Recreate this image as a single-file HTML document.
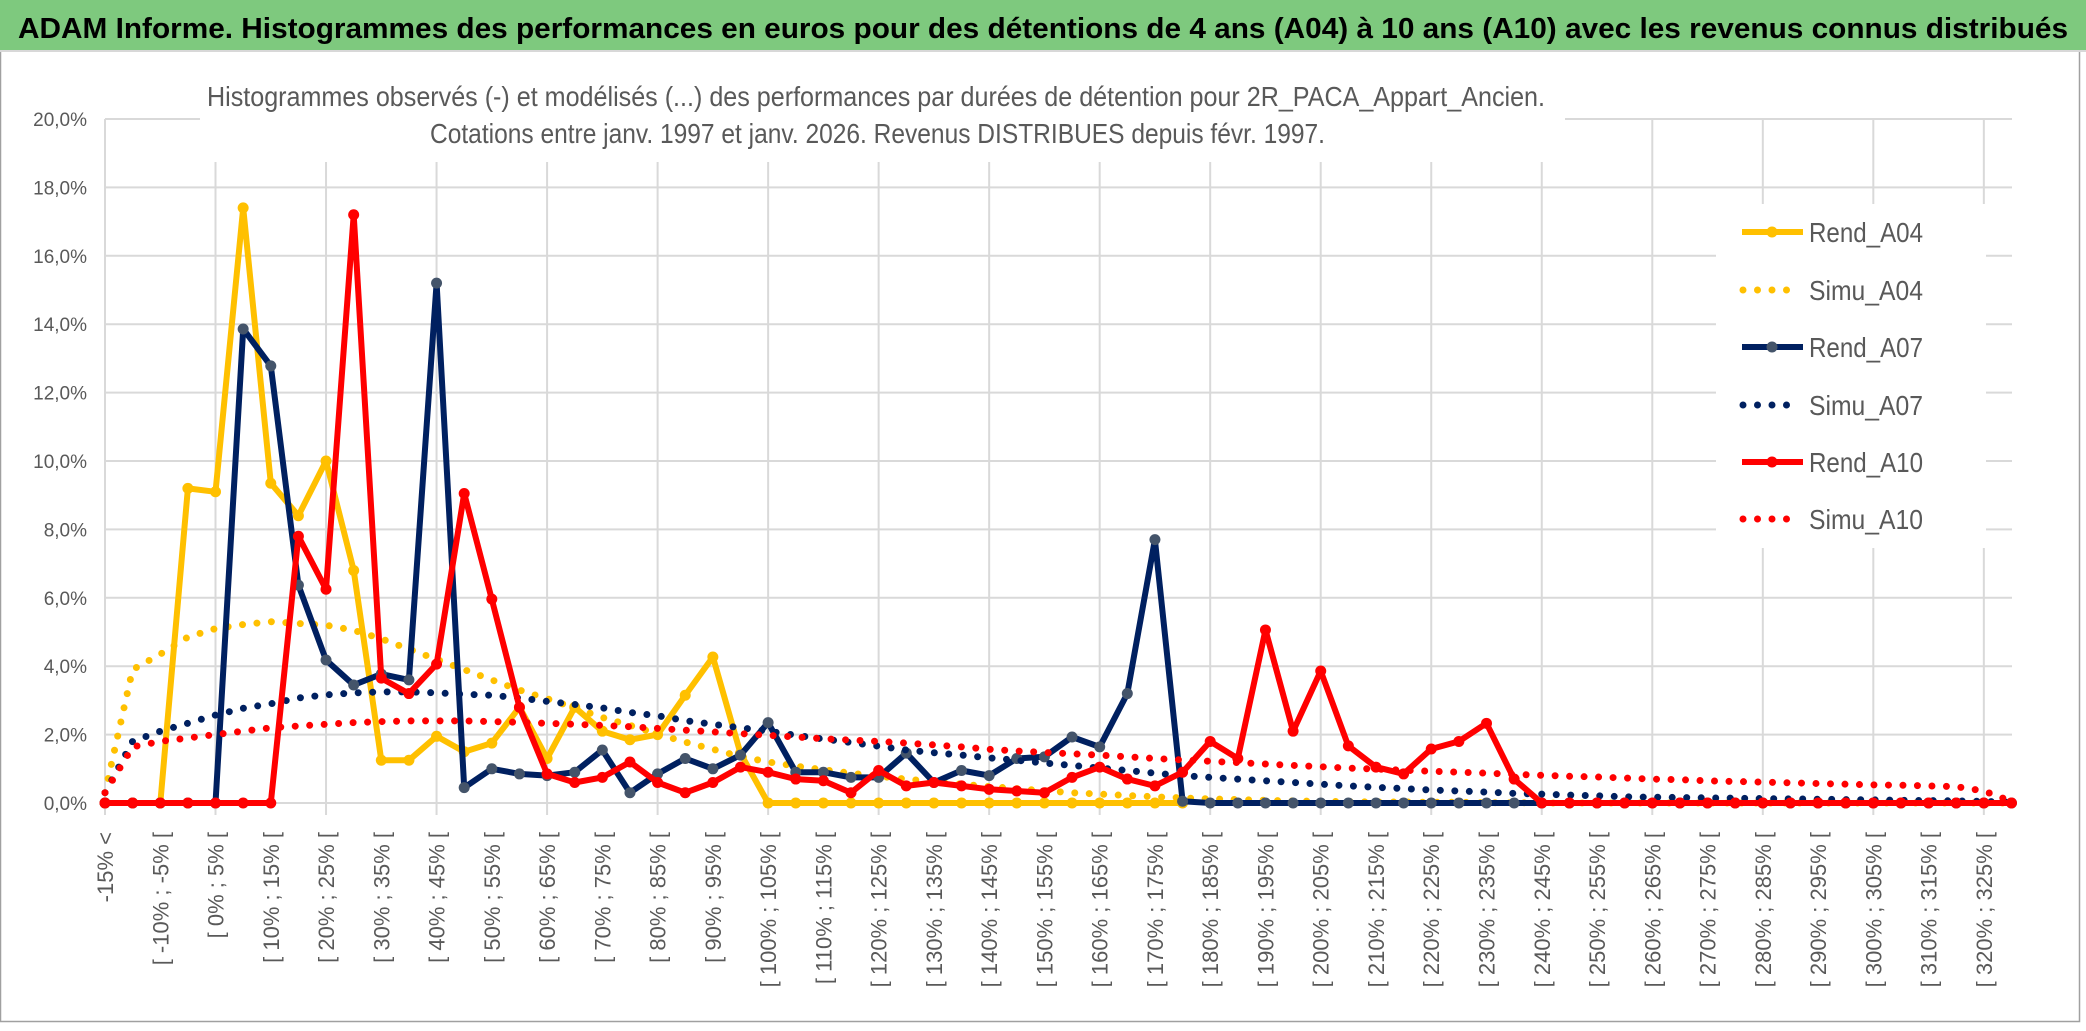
<!DOCTYPE html>
<html><head><meta charset="utf-8"><style>
html,body{margin:0;padding:0;background:#fff;}
svg{display:block;font-family:"Liberation Sans",sans-serif;}
</style></head><body>
<svg id="chart" width="2086" height="1031" viewBox="0 0 2086 1031" xmlns="http://www.w3.org/2000/svg">
<rect x="0" y="0" width="2086" height="1031" fill="#fff"/>
<rect x="0.5" y="0.5" width="2079" height="1021" fill="none" stroke="#a0a0a0" stroke-width="1.5"/>
<rect x="0" y="0" width="2086" height="50" fill="#7ec97e"/>
<line x1="0" y1="51" x2="2086" y2="51" stroke="#d8d8d8" stroke-width="2"/>
<text x="18" y="38" font-size="29" font-weight="bold" fill="#000" textLength="2050" lengthAdjust="spacingAndGlyphs">ADAM Informe. Histogrammes des performances en euros pour des détentions de 4 ans (A04) à 10 ans (A10) avec les revenus connus distribués</text>
<g id="grid"></g>
<g id="yaxis"></g>
<g id="xaxis"></g>
<g id="series"></g>
<rect x="200" y="58" width="1365" height="104" fill="#fff"/>
<text x="207" y="106" font-size="28" fill="#595959" textLength="1338" lengthAdjust="spacingAndGlyphs">Histogrammes observés (-) et modélisés (...) des performances par durées de détention pour 2R_PACA_Appart_Ancien.</text>
<text x="430" y="143" font-size="28" fill="#595959" textLength="895" lengthAdjust="spacingAndGlyphs">Cotations entre janv. 1997 et janv. 2026. Revenus DISTRIBUES depuis févr. 1997.</text>
<g id="legend"></g>
</svg>
<script>
const categories = ["-15% <","[ -15% ; -10% [","[ -10% ; -5% [","[ -5% ; 0% ["];
for (let a = 0; a <= 325; a += 5) categories.push("[ " + a + "% ; " + (a + 5) + "% [");
const yTicks = [0,2,4,6,8,10,12,14,16,18,20];
const yTickLabels = ["0,0%","2,0%","4,0%","6,0%","8,0%","10,0%","12,0%","14,0%","16,0%","18,0%","20,0%"];
const rendA04 = [0,0,0,9.2,9.1,17.4,9.35,8.4,10.0,6.8,1.25,1.25,1.95,1.5,1.75,2.8,1.3,2.8,2.1,1.85,2.0,3.15,4.27,1.45,0,0,0,0,0,0,0,0,0,0,0,0,0,0,0,0];
const simuA04 = [0.3,3.9,4.35,4.85,5.1,5.22,5.3,5.25,5.2,5.05,4.8,4.5,4.2,3.9,3.6,3.3,3.05,2.78,2.5,2.27,2.02,1.78,1.57,1.36,1.2,1.08,0.97,0.87,0.78,0.7,0.62,0.55,0.48,0.42,0.36,0.3,0.26,0.22,0.18,0.15,0.12,0.1,0.08,0.06,0.05,0.04,0.03,0.03,0.02,0.02,0.01,0.01,0,0,0,0,0,0,0,0,0,0,0,0,0,0,0,0,0,0];
const rendA07 = [0,0,0,0,0,13.86,12.78,6.37,4.18,3.45,3.77,3.6,15.2,0.45,1.0,0.85,0.8,0.9,1.55,0.3,0.85,1.3,1.0,1.4,2.35,0.9,0.9,0.75,0.75,1.46,0.6,0.95,0.8,1.3,1.35,1.93,1.64,3.2,7.7,0.05,0,0,0,0,0,0,0,0,0,0,0,0,0,0,0,0,0,0,0,0,0,0,0,0,0,0,0,0,0,0];
const simuA07 = [0.3,1.8,2.1,2.33,2.57,2.77,2.9,3.07,3.16,3.22,3.25,3.25,3.22,3.18,3.15,3.07,2.97,2.88,2.78,2.65,2.55,2.41,2.3,2.2,2.1,1.98,1.87,1.77,1.66,1.55,1.47,1.4,1.32,1.25,1.17,1.1,1.02,0.95,0.87,0.8,0.75,0.7,0.65,0.6,0.55,0.5,0.46,0.42,0.38,0.35,0.32,0.28,0.26,0.23,0.21,0.18,0.17,0.16,0.15,0.14,0.13,0.12,0.11,0.1,0.09,0.08,0.07,0.06,0.05,0.02];
const rendA10 = [0,0,0,0,0,0,0,7.8,6.25,17.2,3.65,3.2,4.06,9.05,5.96,2.8,0.85,0.6,0.75,1.2,0.6,0.3,0.6,1.05,0.9,0.7,0.65,0.3,0.95,0.5,0.6,0.5,0.4,0.35,0.3,0.75,1.05,0.7,0.5,0.9,1.8,1.3,5.06,2.1,3.86,1.67,1.05,0.85,1.58,1.8,2.33,0.7,0,0,0,0,0,0,0,0,0,0,0,0,0,0,0,0,0,0];
const simuA10 = [0.3,1.64,1.8,1.9,2.0,2.1,2.2,2.25,2.3,2.35,2.38,2.4,2.4,2.4,2.38,2.36,2.33,2.3,2.27,2.23,2.18,2.13,2.08,2.03,1.98,1.93,1.88,1.84,1.8,1.75,1.7,1.64,1.57,1.52,1.48,1.44,1.4,1.35,1.3,1.26,1.22,1.18,1.14,1.1,1.06,1.02,0.99,0.96,0.93,0.9,0.87,0.84,0.81,0.78,0.76,0.73,0.7,0.68,0.65,0.63,0.61,0.59,0.57,0.55,0.53,0.52,0.5,0.48,0.35,0.05];
const seriesNames = ["Rend_A04","Simu_A04","Rend_A07","Simu_A07","Rend_A10","Simu_A10"];

const NS = "http://www.w3.org/2000/svg";
const X0 = 105, STEP = 27.63, Y0 = 803, YPER = 34.2, XRIGHT = 2012;
function xScale(i){ return X0 + STEP * i; }
function yScale(v){ return Y0 - YPER * v; }
function mk(tag, attrs, parent){ const e = document.createElementNS(NS, tag); for (const k in attrs) e.setAttribute(k, attrs[k]); parent.appendChild(e); return e; }

const grid = document.getElementById('grid');
yTicks.forEach((t, k) => {
  const l = mk('line', {x1: X0, x2: XRIGHT, y1: yScale(t), y2: yScale(t), stroke: '#d9d9d9', 'stroke-width': 2}, grid);
  
  
  const tx = mk('text', {x: 87, y: yScale(t) + 7, 'text-anchor': 'end', 'font-size': 19, fill: '#595959'}, document.getElementById('yaxis'));
  tx.textContent = yTickLabels[k];
  
  
});
for (let i = 0; i < categories.length; i += 4) {
  const l = mk('line', {x1: xScale(i), x2: xScale(i), y1: yScale(20), y2: Y0 + 12, stroke: '#d9d9d9', 'stroke-width': 2}, grid);
  
  
}
const xaxis = document.getElementById('xaxis');
for (let i = 0; i < categories.length; i += 2) {
  const x = xScale(i) + 8, y = 832;
  const tx = mk('text', {x: x, y: y, 'text-anchor': 'end', 'font-size': 22, fill: '#595959', transform: 'rotate(-90 ' + x + ' ' + y + ')'}, xaxis);
  tx.textContent = categories[i];
  
  
}

const sg = document.getElementById('series');
function pts(arr){ return arr.map((v, i) => xScale(i).toFixed(1) + ',' + yScale(v).toFixed(1)).join(' '); }
function solid(arr, color, mcolor, name){
  const g = mk('g', {}, sg);
  
  
  mk('polyline', {points: pts(arr), fill: 'none', stroke: color, 'stroke-width': 6, 'stroke-linejoin': 'round'}, g);
  arr.forEach((v, i) => {
    const c = mk('circle', {cx: xScale(i), cy: yScale(v), r: 5.5, fill: mcolor}, g);
    
    
  });
}
function dotted(arr, color, name){
  const p = mk('polyline', {points: pts(arr), fill: 'none', stroke: color, 'stroke-width': 7, 'stroke-linecap': 'round', 'stroke-dasharray': '0 14.5'}, sg);
  
  
}
solid(rendA04, '#ffc000', '#ffc000', 'series-rend-a04');
dotted(simuA04, '#ffc000', 'series-simu-a04');
solid(rendA07, '#002060', '#44546a', 'series-rend-a07');
dotted(simuA07, '#002060', 'series-simu-a07');
solid(rendA10, '#ff0000', '#ff0000', 'series-rend-a10');
dotted(simuA10, '#ff0000', 'series-simu-a10');

const lg = document.getElementById('legend');
mk('rect', {x: 1716, y: 204, width: 270, height: 344, fill: '#fff'}, lg);
const lcol = ['#ffc000','#ffc000','#002060','#002060','#ff0000','#ff0000'];
const lmk = ['#ffc000',null,'#44546a',null,'#ff0000',null];
const lys = [232,290,347,405,462,519];
seriesNames.forEach((n, k) => {
  const y = lys[k];
  const g = mk('g', {}, lg);
  
  
  if (lmk[k]) {
    mk('line', {x1: 1742, x2: 1803, y1: y, y2: y, stroke: lcol[k], 'stroke-width': 6}, g);
    mk('circle', {cx: 1772, cy: y, r: 5.5, fill: lmk[k]}, g);
  } else {
    mk('line', {x1: 1743, x2: 1800, y1: y, y2: y, stroke: lcol[k], 'stroke-width': 7, 'stroke-linecap': 'round', 'stroke-dasharray': '0 14.5'}, g);
  }
  const t = mk('text', {x: 1809, y: y + 10, 'font-size': 28, fill: '#595959', textLength: 114, lengthAdjust: 'spacingAndGlyphs'}, g);
  t.textContent = n;
});
</script>
</body></html>
